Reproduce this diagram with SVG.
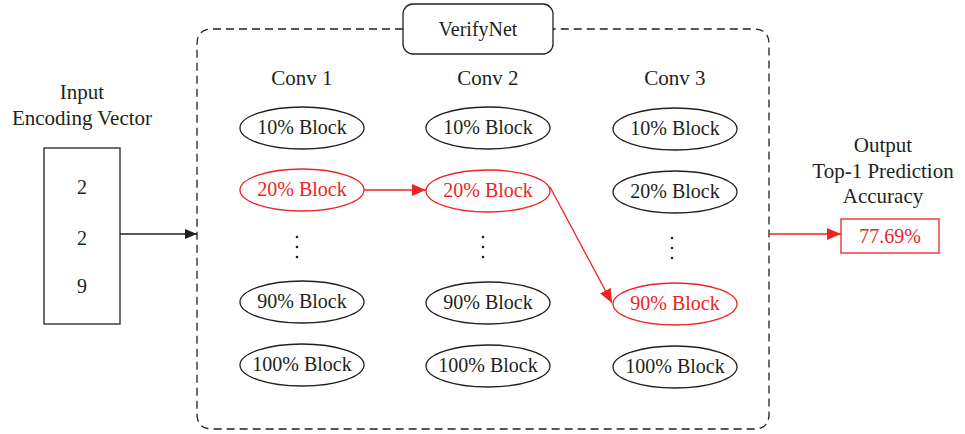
<svg xmlns="http://www.w3.org/2000/svg" width="965" height="434" viewBox="0 0 965 434">
  <style>
    text { font-family: "Liberation Serif", "Times New Roman", serif; font-size: 20px; fill: #231f20; text-anchor: middle; }
    .lbl { font-size: 21px; }
    .hl { fill: #ee2324; }
    .blk { fill: none; stroke: #231f20; stroke-width: 1.3; }
    .red { fill: none; stroke: #ee2324; stroke-width: 1.3; }
    .dash { fill: none; stroke: #231f20; stroke-width: 1.3; stroke-dasharray: 8 5; }
  </style>
  <defs>
    <marker id="ahBlack" viewBox="0 0 12 10" refX="12" refY="5" markerWidth="12" markerHeight="10" markerUnits="userSpaceOnUse" orient="auto">
      <path d="M0,0 L12,5 L0,10 Z" fill="#231f20"/>
    </marker>
    <marker id="ahRed" viewBox="0 0 14 12" refX="14" refY="6" markerWidth="14" markerHeight="12" markerUnits="userSpaceOnUse" orient="auto">
      <path d="M0,0 L14,6 L0,12 Z" fill="#ee2324"/>
    </marker>
  </defs>

  <!-- VerifyNet container (dashed, broken around the title box) -->
  <g id="container">
    <path class="dash" d="M403,29 H212 Q197,29 197,44 V414 Q197,429 212,429 H754 Q769,429 769,414 V44 Q769,29 754,29 H553"/>
  </g>
  <g id="verifynet">
    <rect class="blk" x="403" y="4" width="150" height="50" rx="10"/>
    <text x="478" y="36">VerifyNet</text>
  </g>

  <!-- Input vector -->
  <g id="input">
    <text class="lbl" x="82" y="99">Input</text>
    <text class="lbl" x="82" y="125">Encoding Vector</text>
    <rect class="blk" x="44" y="148" width="76" height="176"/>
    <text x="82" y="194">2</text>
    <text x="82" y="245">2</text>
    <text x="82" y="293">9</text>
  </g>

  <!-- Output -->
  <g id="output">
    <text class="lbl" x="883" y="152">Output</text>
    <text class="lbl" x="883" y="178">Top-1 Prediction</text>
    <text class="lbl" x="883" y="203">Accuracy</text>
    <rect class="red" x="841" y="219" width="98" height="34"/>
    <text class="hl" x="890" y="243">77.69%</text>
  </g>

  <!-- Column headers -->
  <g id="conv1-label"><text class="lbl" x="302" y="85">Conv 1</text></g>
  <g id="conv2-label"><text class="lbl" x="488" y="85">Conv 2</text></g>
  <g id="conv3-label"><text class="lbl" x="675" y="85">Conv 3</text></g>

  <!-- Conv 1 blocks -->
  <g id="c1-10"><ellipse class="blk" cx="302" cy="128" rx="62" ry="21"/><text x="302" y="134">10% Block</text></g>
  <g id="c1-20"><ellipse class="red" cx="302" cy="190" rx="62" ry="21"/><text class="hl" x="302" y="196">20% Block</text></g>
  <g id="c1-dots"><circle cx="297" cy="237" r="1.3" fill="#231f20"/><circle cx="297" cy="247" r="1.3" fill="#231f20"/><circle cx="297" cy="257" r="1.3" fill="#231f20"/></g>
  <g id="c1-90"><ellipse class="blk" cx="302" cy="302" rx="62" ry="21"/><text x="302" y="308">90% Block</text></g>
  <g id="c1-100"><ellipse class="blk" cx="302" cy="365" rx="62" ry="21"/><text x="302" y="371">100% Block</text></g>

  <!-- Conv 2 blocks -->
  <g id="c2-10"><ellipse class="blk" cx="488" cy="128" rx="62" ry="21"/><text x="488" y="134">10% Block</text></g>
  <g id="c2-20"><ellipse class="red" cx="488" cy="191" rx="62" ry="21"/><text class="hl" x="488" y="197">20% Block</text></g>
  <g id="c2-dots"><circle cx="483" cy="237" r="1.3" fill="#231f20"/><circle cx="483" cy="247" r="1.3" fill="#231f20"/><circle cx="483" cy="257" r="1.3" fill="#231f20"/></g>
  <g id="c2-90"><ellipse class="blk" cx="488" cy="303" rx="62" ry="21"/><text x="488" y="309">90% Block</text></g>
  <g id="c2-100"><ellipse class="blk" cx="488" cy="366" rx="62" ry="21"/><text x="488" y="372">100% Block</text></g>

  <!-- Conv 3 blocks -->
  <g id="c3-10"><ellipse class="blk" cx="675" cy="129" rx="62" ry="21"/><text x="675" y="135">10% Block</text></g>
  <g id="c3-20"><ellipse class="blk" cx="675" cy="192" rx="62" ry="21"/><text x="675" y="198">20% Block</text></g>
  <g id="c3-dots"><circle cx="672" cy="238" r="1.3" fill="#231f20"/><circle cx="672" cy="248" r="1.3" fill="#231f20"/><circle cx="672" cy="258" r="1.3" fill="#231f20"/></g>
  <g id="c3-90"><ellipse class="red" cx="675" cy="304" rx="62" ry="21"/><text class="hl" x="675" y="310">90% Block</text></g>
  <g id="c3-100"><ellipse class="blk" cx="675" cy="367" rx="62" ry="21"/><text x="675" y="373">100% Block</text></g>

  <!-- Connectors -->
  <g id="connectors">
    <line class="blk" x1="120" y1="234" x2="197" y2="234" marker-end="url(#ahBlack)"/>
    <line class="red" x1="364" y1="190" x2="426" y2="190" marker-end="url(#ahRed)"/>
    <line class="red" x1="550" y1="187" x2="612" y2="303" marker-end="url(#ahRed)"/>
    <line class="red" x1="769" y1="234" x2="841" y2="234" marker-end="url(#ahRed)"/>
  </g>
</svg>
